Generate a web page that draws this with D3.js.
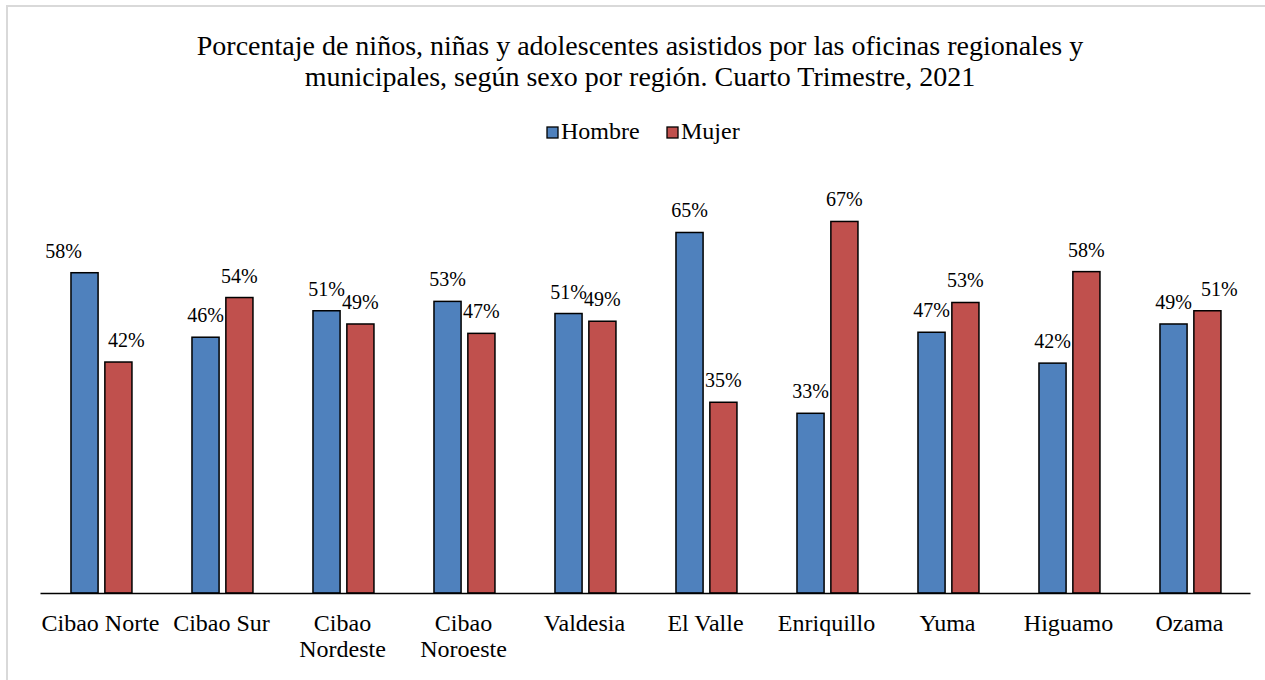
<!DOCTYPE html>
<html>
<head>
<meta charset="utf-8">
<script src="https://cdn.jsdelivr.net/npm/d3@7"></script>
<style>
  body { margin: 0; background: #fff; }
  svg { display: block; }
  text { font-family: "Liberation Serif", "Times New Roman", serif; fill: #000; }
</style>
</head>
<body>
<svg id="chart" width="1265" height="680"></svg>
<script>
// data
var regions = ["Cibao Norte", "Cibao Sur", "Cibao Nordeste", "Cibao Noroeste", "Valdesia",
  "El Valle", "Enriquillo", "Yuma", "Higuamo", "Ozama"];
var series = ["Hombre", "Mujer"];
var hombre = [0.581, 0.464, 0.512, 0.529, 0.507, 0.654, 0.326, 0.473, 0.417, 0.488];
var mujer  = [0.419, 0.536, 0.488, 0.471, 0.493, 0.346, 0.674, 0.527, 0.583, 0.512];
var colors = ["#4f81bd", "#c0504d"];

// a few labels were dragged aside in the original
var labelNudge = { "Cibao Norte|Hombre": -21, "Cibao Norte|Mujer": 8, "Ozama|Mujer": 12 };

var svg = d3.select("#chart");
var width = 1265, height = 680;

let margin = { top: 152, right: 15, bottom: 87, left: 40 };
let plotWidth = width - margin.left - margin.right;
let plotHeight = height - margin.top - margin.bottom;

// outer frame
svg.append("rect")
  .attr("x", 7).attr("y", 6)
  .attr("width", width + 10).attr("height", height + 10)
  .attr("fill", "none")
  .attr("stroke", "#d9d9d9")
  .attr("stroke-width", 2);

// title
let title = svg.append("text")
  .attr("text-anchor", "middle")
  .style("font-size", "28px");
title.append("tspan").attr("x", 640).attr("y", 55)
  .text("Porcentaje de niños, niñas y adolescentes asistidos por las oficinas regionales y");
title.append("tspan").attr("x", 640).attr("y", 86)
  .text("municipales, según sexo por región. Cuarto Trimestre, 2021");

let rows = regions.map((r, i) => ({ region: r, values: [hombre[i], mujer[i]] }));

let x0 = d3.scaleBand()
  .domain(regions)
  .range([0, plotWidth]);

let x1 = d3.scaleBand()
  .domain(series)
  .range([x0.bandwidth() * 0.256, x0.bandwidth() * 0.76])
  .paddingInner(0.2);

let y = d3.scaleLinear()
  .domain([0, 0.8])
  .range([plotHeight, 0]);

let color = d3.scaleOrdinal().domain(series).range(colors);

let plot = svg.append("g")
  .attr("transform", "translate(" + margin.left + "," + margin.top + ")");

let groups = plot.selectAll("g.group")
  .data(rows)
  .enter().append("g")
  .attr("class", "group")
  .attr("transform", d => "translate(" + x0(d.region) + ",0)");

let cells = groups.selectAll("g.cell")
  .data(d => d.values.map((v, j) => ({ region: d.region, key: series[j], value: v })))
  .enter().append("g")
  .attr("class", "cell");

cells.append("rect")
  .attr("x", d => x1(d.key))
  .attr("y", d => y(d.value))
  .attr("width", x1.bandwidth())
  .attr("height", d => plotHeight - y(d.value))
  .attr("fill", d => color(d.key))
  .attr("stroke", "#000")
  .attr("stroke-width", 1.5);

cells.append("text")
  .attr("x", d => x1(d.key) + x1.bandwidth() / 2 + (labelNudge[d.region + "|" + d.key] || 0))
  .attr("y", d => y(d.value) - 15)
  .attr("text-anchor", "middle")
  .style("font-size", "20px")
  .text(d => d3.format(".0%")(d.value));

// x axis: just the base line and wrapped labels
let xAxis = d3.axisBottom(x0).tickSize(0).tickPadding(0);
let xGroup = plot.append("g")
  .attr("transform", "translate(0," + plotHeight + ")")
  .call(xAxis);
xGroup.select(".domain").attr("stroke", "#000").attr("stroke-width", 1.5);
xGroup.selectAll(".tick text")
  .style("font-size", "24px")
  .style("font-family", '"Liberation Serif", "Times New Roman", serif')
  .attr("fill", "#000")
  .each(function(d) {
    let t = d3.select(this);
    t.text(null);
    let lines = (d.startsWith("Cibao ") && d !== "Cibao Norte" && d !== "Cibao Sur")
      ? d.split(" ") : [d];
    lines.forEach((ln, k) => {
      t.append("tspan").attr("x", 0).attr("y", 38 + k * 26).attr("dy", 0).text(ln);
    });
  });

// legend
let legend = svg.append("g").attr("transform", "translate(547,127)");
let li = legend.selectAll("g")
  .data(series)
  .enter().append("g")
  .attr("transform", (d, i) => "translate(" + (i * 120) + ",0)");
li.append("rect")
  .attr("width", 11).attr("height", 11)
  .attr("fill", d => color(d))
  .attr("stroke", "#000")
  .attr("stroke-width", 1.3);
li.append("text")
  .attr("x", 14).attr("y", 12)
  .style("font-size", "24px")
  .text(d => d);
</script>
</body>
</html>
